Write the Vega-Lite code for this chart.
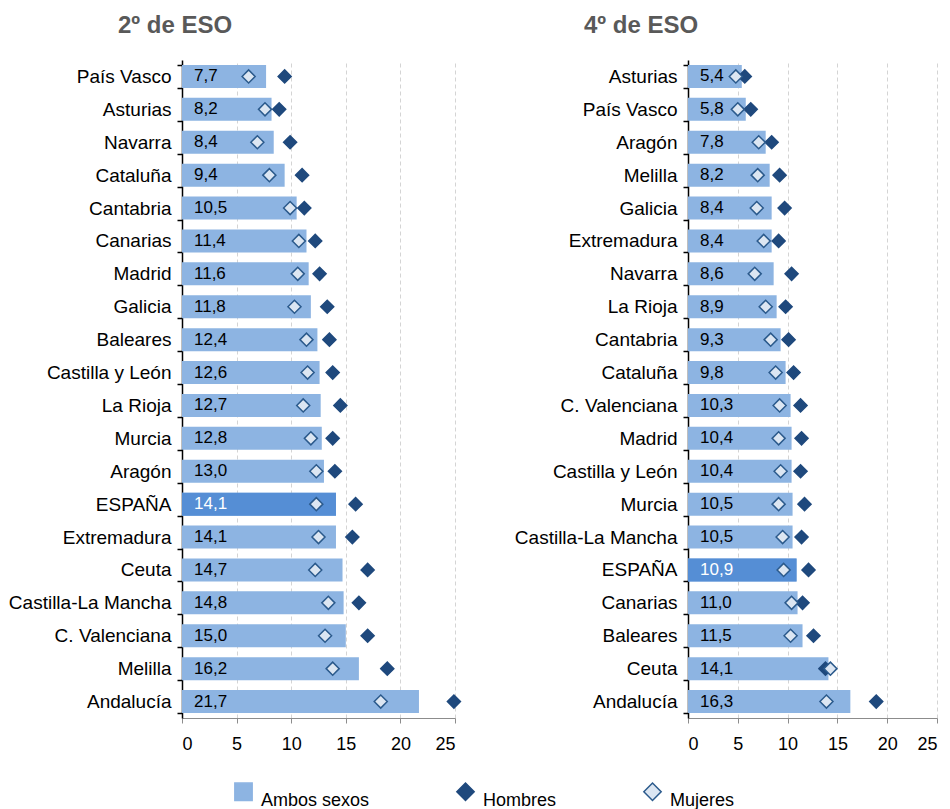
{
  "$schema": "https://vega.github.io/schema/vega-lite/v6.json",
  "padding": {"left": 8, "top": 14, "right": 5, "bottom": 5},
  "config": {
    "font": "Liberation Sans",
    "view": {"stroke": null},
    "locale": {"number": {"decimal": ",", "thousands": ".", "grouping": [3], "currency": ["", " €"]}},
    "axisY": {"title": null, "labelFontSize": 19, "labelColor": "#000000", "domainColor": "#000000", "domainWidth": 1.5, "tickColor": "#000000", "tickWidth": 1.5, "tickBand": "extent", "tickSize": 5, "labelPadding": 6, "grid": false},
    "axisX": {"title": null, "grid": true, "gridDash": [4, 3], "gridColor": "#d4d4d4", "domainColor": "#8c8c8c", "tickColor": "#8c8c8c", "labelFontSize": 18, "labelColor": "#000000", "tickSize": 5, "labelPadding": 12},
    "title": {"fontSize": 24, "color": "#595959", "fontWeight": "bold", "anchor": "start", "frame": "group", "offset": 13},
    "legend": {"orient": "none", "direction": "horizontal", "legendX": 52, "legendY": 722, "symbolSize": 300, "labelFontSize": 18, "labelColor": "#000000", "labelOffset": 8, "columnPadding": 83, "labelBaseline": "top", "symbolStrokeWidth": 1.5}
  },
  "datasets": {
    "eso2": [
      {"region": "País Vasco", "ambos": 7.7, "hombres": 9.4, "mujeres": 6.1},
      {"region": "Asturias", "ambos": 8.2, "hombres": 8.9, "mujeres": 7.6},
      {"region": "Navarra", "ambos": 8.4, "hombres": 9.9, "mujeres": 6.9},
      {"region": "Cataluña", "ambos": 9.4, "hombres": 11.0, "mujeres": 8.0},
      {"region": "Cantabria", "ambos": 10.5, "hombres": 11.2, "mujeres": 9.9},
      {"region": "Canarias", "ambos": 11.4, "hombres": 12.2, "mujeres": 10.7},
      {"region": "Madrid", "ambos": 11.6, "hombres": 12.6, "mujeres": 10.6},
      {"region": "Galicia", "ambos": 11.8, "hombres": 13.3, "mujeres": 10.3},
      {"region": "Baleares", "ambos": 12.4, "hombres": 13.5, "mujeres": 11.4},
      {"region": "Castilla y León", "ambos": 12.6, "hombres": 13.8, "mujeres": 11.5},
      {"region": "La Rioja", "ambos": 12.7, "hombres": 14.5, "mujeres": 11.1},
      {"region": "Murcia", "ambos": 12.8, "hombres": 13.8, "mujeres": 11.8},
      {"region": "Aragón", "ambos": 13.0, "hombres": 14.0, "mujeres": 12.3},
      {"region": "ESPAÑA", "ambos": 14.1, "hombres": 15.9, "mujeres": 12.3},
      {"region": "Extremadura", "ambos": 14.1, "hombres": 15.6, "mujeres": 12.5},
      {"region": "Ceuta", "ambos": 14.7, "hombres": 17.0, "mujeres": 12.2},
      {"region": "Castilla-La Mancha", "ambos": 14.8, "hombres": 16.2, "mujeres": 13.4},
      {"region": "C. Valenciana", "ambos": 15.0, "hombres": 17.0, "mujeres": 13.1},
      {"region": "Melilla", "ambos": 16.2, "hombres": 18.8, "mujeres": 13.8},
      {"region": "Andalucía", "ambos": 21.7, "hombres": 24.9, "mujeres": 18.2}
    ],
    "eso4": [
      {"region": "Asturias", "ambos": 5.4, "hombres": 5.7, "mujeres": 4.8},
      {"region": "País Vasco", "ambos": 5.8, "hombres": 6.3, "mujeres": 5.0},
      {"region": "Aragón", "ambos": 7.8, "hombres": 8.4, "mujeres": 7.1},
      {"region": "Melilla", "ambos": 8.2, "hombres": 9.2, "mujeres": 7.0},
      {"region": "Galicia", "ambos": 8.4, "hombres": 9.7, "mujeres": 6.9},
      {"region": "Extremadura", "ambos": 8.4, "hombres": 9.1, "mujeres": 7.6},
      {"region": "Navarra", "ambos": 8.6, "hombres": 10.4, "mujeres": 6.7},
      {"region": "La Rioja", "ambos": 8.9, "hombres": 9.8, "mujeres": 7.8},
      {"region": "Cantabria", "ambos": 9.3, "hombres": 10.1, "mujeres": 8.3},
      {"region": "Cataluña", "ambos": 9.8, "hombres": 10.6, "mujeres": 8.8},
      {"region": "C. Valenciana", "ambos": 10.3, "hombres": 11.3, "mujeres": 9.2},
      {"region": "Madrid", "ambos": 10.4, "hombres": 11.4, "mujeres": 9.1},
      {"region": "Castilla y León", "ambos": 10.4, "hombres": 11.3, "mujeres": 9.3},
      {"region": "Murcia", "ambos": 10.5, "hombres": 11.7, "mujeres": 9.1},
      {"region": "Castilla-La Mancha", "ambos": 10.5, "hombres": 11.4, "mujeres": 9.5},
      {"region": "ESPAÑA", "ambos": 10.9, "hombres": 12.1, "mujeres": 9.6},
      {"region": "Canarias", "ambos": 11.0, "hombres": 11.5, "mujeres": 10.4},
      {"region": "Baleares", "ambos": 11.5, "hombres": 12.6, "mujeres": 10.3},
      {"region": "Ceuta", "ambos": 14.1, "hombres": 13.8, "mujeres": 14.3},
      {"region": "Andalucía", "ambos": 16.3, "hombres": 18.9, "mujeres": 13.9}
    ]
  },
  "hconcat": [
    {
      "width": 273,
      "height": 658,
      "title": {"text": "2º de ESO", "dx": -64},
      "data": {"name": "eso2"},
      "encoding": {
        "y": {"field": "region", "type": "nominal", "sort": null, "scale": {"paddingInner": 0.3, "paddingOuter": 0.15}},
        "x": {"type": "quantitative", "scale": {"domain": [0, 25], "nice": false}, "axis": {"values": [0, 5, 10, 15, 20, 25]}}
      },
      "layer": [
        {"mark": {"type": "bar"}, "encoding": {"x": {"field": "ambos", "type": "quantitative"}, "fill": {"datum": "Ambos sexos", "type": "nominal", "scale": {"domain": ["Ambos sexos", "Hombres", "Mujeres"], "range": ["#8DB4E2", "#1F497D", "#DCE6F2"]}, "legend": {"title": null}}}},
        {"transform": [{"filter": "datum.region === 'ESPAÑA'"}], "mark": {"type": "bar", "fill": "#558ED5"}, "encoding": {"x": {"field": "ambos", "type": "quantitative"}}},
        {"mark": {"type": "text", "align": "left", "dx": 12, "fontSize": 17}, "encoding": {"x": {"datum": 0, "type": "quantitative"}, "text": {"field": "ambos", "type": "quantitative", "format": ".1f"}, "color": {"condition": {"test": "datum.region === 'ESPAÑA'", "value": "#ffffff"}, "value": "#000000"}}},
        {"mark": {"type": "point", "filled": true, "size": 170, "strokeWidth": 1.5, "opacity": 1}, "encoding": {"x": {"field": "hombres", "type": "quantitative"}, "fill": {"datum": "Hombres", "type": "nominal"}, "stroke": {"datum": "Hombres", "type": "nominal", "scale": {"domain": ["Ambos sexos", "Hombres", "Mujeres"], "range": ["#8DB4E2", "#1F497D", "#2B5A8C"]}}, "shape": {"datum": "Hombres", "type": "nominal", "scale": {"domain": ["Ambos sexos", "Hombres", "Mujeres"], "range": ["square", "diamond", "diamond"]}}}},
        {"mark": {"type": "point", "filled": true, "size": 170, "strokeWidth": 1.5, "opacity": 1}, "encoding": {"x": {"field": "mujeres", "type": "quantitative"}, "fill": {"datum": "Mujeres", "type": "nominal"}, "stroke": {"datum": "Mujeres", "type": "nominal"}, "shape": {"datum": "Mujeres", "type": "nominal"}}}
      ]
    },
    {
      "width": 249,
      "height": 658,
      "title": {"text": "4º de ESO", "dx": -104},
      "data": {"name": "eso4"},
      "encoding": {
        "y": {"field": "region", "type": "nominal", "sort": null, "scale": {"paddingInner": 0.3, "paddingOuter": 0.15}},
        "x": {"type": "quantitative", "scale": {"domain": [0, 25], "nice": false}, "axis": {"values": [0, 5, 10, 15, 20, 25]}}
      },
      "layer": [
        {"mark": {"type": "bar"}, "encoding": {"x": {"field": "ambos", "type": "quantitative"}, "fill": {"datum": "Ambos sexos", "type": "nominal"}}},
        {"transform": [{"filter": "datum.region === 'ESPAÑA'"}], "mark": {"type": "bar", "fill": "#558ED5"}, "encoding": {"x": {"field": "ambos", "type": "quantitative"}}},
        {"mark": {"type": "text", "align": "left", "dx": 12, "fontSize": 17}, "encoding": {"x": {"datum": 0, "type": "quantitative"}, "text": {"field": "ambos", "type": "quantitative", "format": ".1f"}, "color": {"condition": {"test": "datum.region === 'ESPAÑA'", "value": "#ffffff"}, "value": "#000000"}}},
        {"mark": {"type": "point", "filled": true, "size": 170, "strokeWidth": 1.5, "opacity": 1}, "encoding": {"x": {"field": "hombres", "type": "quantitative"}, "fill": {"datum": "Hombres", "type": "nominal"}, "stroke": {"datum": "Hombres", "type": "nominal"}, "shape": {"datum": "Hombres", "type": "nominal"}}},
        {"mark": {"type": "point", "filled": true, "size": 170, "strokeWidth": 1.5, "opacity": 1}, "encoding": {"x": {"field": "mujeres", "type": "quantitative"}, "fill": {"datum": "Mujeres", "type": "nominal"}, "stroke": {"datum": "Mujeres", "type": "nominal"}, "shape": {"datum": "Mujeres", "type": "nominal"}}}
      ]
    }
  ],
  "spacing": 50,
  "resolve": {"scale": {"x": "independent", "y": "independent"}}
}
